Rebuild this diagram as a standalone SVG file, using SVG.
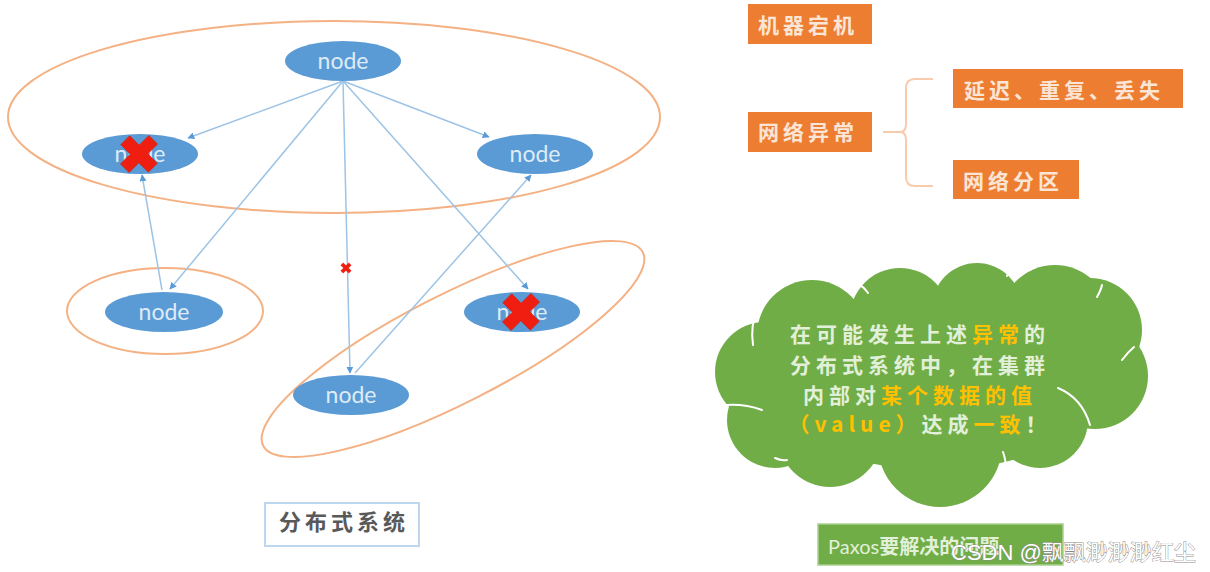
<svg xmlns="http://www.w3.org/2000/svg" width="1210" height="572" viewBox="0 0 1210 572">
<defs>
<style>
.grp{fill:none;stroke:#F4B183;stroke-width:2}
.nd{fill:#5B9BD5}
.nt{font-family:Lato,"Open Sans",sans-serif;font-size:23px;fill:#DEEBF7;text-anchor:middle}
.cn{fill:none;stroke:#9DC3E6;stroke-width:1.5}
.xx{fill:#F01E10;stroke:#C8281E;stroke-width:0.8}
.ob{fill:#ED7D31}
.ot{font-family:"Noto Sans CJK SC",sans-serif;font-size:21px;font-weight:700;fill:#FBE5D6;letter-spacing:4px}
.ct{font-family:"Noto Sans CJK SC",sans-serif;font-size:21px;font-weight:700;fill:#E2F0D9;letter-spacing:5px;text-anchor:middle}
.hl{fill:#FFC000}
.cl{fill:#70AD47}
.arc{fill:none;stroke:#ffffff;stroke-width:2;stroke-linecap:round}
</style>
<marker id="ah" viewBox="0 0 10 10" refX="9" refY="5" markerWidth="7" markerHeight="7" markerUnits="userSpaceOnUse" orient="auto">
<path d="M0,0 L10,5 L0,10 z" fill="#5B9BD5"/>
</marker>
<polygon id="xs" points="6.4,-20.5 6.4,-6.4 20.5,-6.4 20.5,6.4 6.4,6.4 6.4,20.5 -6.4,20.5 -6.4,6.4 -20.5,6.4 -20.5,-6.4 -6.4,-6.4 -6.4,-20.5"/>
</defs>
<rect width="1210" height="572" fill="#ffffff"/>

<g id="groups">
<ellipse class="grp" cx="334" cy="117" rx="326" ry="96"/>
<ellipse class="grp" cx="165" cy="311" rx="98" ry="43"/>
<ellipse class="grp" cx="453" cy="349" rx="213" ry="54" transform="rotate(-27 453 349)"/>
</g>

<g id="connectors">
<line class="cn" x1="343" y1="81" x2="188" y2="138" marker-end="url(#ah)"/>
<line class="cn" x1="343" y1="81" x2="489" y2="137" marker-end="url(#ah)"/>
<line class="cn" x1="343" y1="81" x2="170" y2="289" marker-end="url(#ah)"/>
<line class="cn" x1="343" y1="81" x2="350" y2="373" marker-end="url(#ah)"/>
<line class="cn" x1="343" y1="81" x2="528" y2="289" marker-end="url(#ah)"/>
<line class="cn" x1="162" y1="290" x2="142" y2="175" marker-end="url(#ah)"/>
<line class="cn" x1="355" y1="373" x2="531" y2="175" marker-end="url(#ah)"/>
<use href="#xs" class="xx" transform="translate(346 268) rotate(45) scale(0.28 0.28)"/>
</g>

<g id="node-top">
<ellipse class="nd" cx="343" cy="61" rx="58" ry="20"/>
<text class="nt" x="343" y="69">node</text>
</g>
<g id="node-left">
<ellipse class="nd" cx="140" cy="154" rx="58" ry="20"/>
<text class="nt" x="140" y="162">node</text>
<use href="#xs" class="xx" transform="translate(139 154) rotate(45) scale(0.95 0.98)"/>
</g>
<g id="node-right">
<ellipse class="nd" cx="535" cy="154" rx="58" ry="20"/>
<text class="nt" x="535" y="162">node</text>
</g>
<g id="node-midleft">
<ellipse class="nd" cx="164" cy="312" rx="59" ry="20"/>
<text class="nt" x="164" y="320">node</text>
</g>
<g id="node-midright">
<ellipse class="nd" cx="522" cy="312" rx="58" ry="20"/>
<text class="nt" x="522" y="320">node</text>
<use href="#xs" class="xx" transform="translate(521 312) rotate(45) scale(0.95 0.98)"/>
</g>
<g id="node-bottom">
<ellipse class="nd" cx="351" cy="395" rx="58" ry="20"/>
<text class="nt" x="351" y="403">node</text>
</g>

<g id="label-system">
<rect x="265" y="503" width="154" height="43" fill="#ffffff" stroke="#BDD7EE" stroke-width="2"/>
<text x="344" y="530" font-family="'Noto Sans CJK SC',sans-serif" font-size="22" font-weight="700" fill="#595959" letter-spacing="4" text-anchor="middle">分布式系统</text>
</g>

<g id="box-crash">
<rect class="ob" x="748" y="4" width="124" height="40"/>
<text class="ot" x="758" y="33">机器宕机</text>
</g>
<g id="box-net">
<rect class="ob" x="748" y="112" width="124" height="40"/>
<text class="ot" x="758" y="140">网络异常</text>
</g>
<g id="box-delay">
<rect class="ob" x="953" y="69" width="230" height="39"/>
<text class="ot" x="964" y="98">延迟、重复、丢失</text>
</g>
<g id="box-part">
<rect class="ob" x="953" y="160" width="126" height="39"/>
<text class="ot" x="963" y="189">网络分区</text>
</g>
<g id="brace">
<path d="M883,132 L900,132 Q906,132 906,124 L906,88 Q906,79 915,79 L933,79 M906,140 L906,177 Q906,186 915,186 L933,186 M900,132 Q906,132 906,140" fill="none" stroke="#F8CBAD" stroke-width="2"/>
</g>

<g id="cloud">
<g class="cl">
<circle cx="812" cy="335" r="55"/>
<circle cx="900" cy="318" r="50"/>
<circle cx="977" cy="308" r="45"/>
<circle cx="1055" cy="320" r="55"/>
<circle cx="1090" cy="330" r="52"/>
<circle cx="1095" cy="376" r="53"/>
<circle cx="1040" cy="420" r="48"/>
<circle cx="940" cy="445" r="62"/>
<circle cx="830" cy="435" r="52"/>
<circle cx="775" cy="420" r="48"/>
<circle cx="765" cy="372" r="50"/>
<ellipse cx="935" cy="385" rx="165" ry="85"/>
</g>
<path class="arc" d="M753,345 Q750,325 758,308"/>
<path class="arc" d="M858,284 Q864,287 868,293"/>
<path class="arc" d="M940,280 Q942,271 947,265"/>
<path class="arc" d="M1007,276 Q1009,270 1013,266"/>
<path class="arc" d="M1097,297 Q1101,290 1102,285"/>
<path class="arc" d="M1122,360 Q1128,352 1134,347"/>
<path class="arc" d="M1058,388 Q1082,398 1090,425"/>
<path class="arc" d="M1003,452 Q1006,460 1006,470"/>
<path class="arc" d="M873,472 Q878,478 884,484"/>
<path class="arc" d="M775,458 Q781,461 787,460"/>
<path class="arc" d="M727,405 Q745,404 762,410"/>
<text class="ct" x="920" y="342">在可能发生上述<tspan class="hl">异常</tspan>的</text>
<text class="ct" x="920" y="373">分布式系统中，在集群</text>
<text class="ct" x="920" y="403">内部对<tspan class="hl">某个数据的值</tspan></text>
<text class="ct" x="920" y="432"><tspan class="hl">（value）</tspan>达成<tspan class="hl">一致</tspan>！</text>
</g>

<g id="box-paxos">
<rect x="818" y="524" width="245" height="41" fill="#70AD47" stroke="#A9D18E" stroke-width="1.5"/>
<text x="828" y="554" font-family="'Noto Sans CJK SC',sans-serif" font-size="20" font-weight="700" fill="#E2F0D9"><tspan font-family="Lato,sans-serif" font-weight="400">Paxos</tspan>要解决的问题</text>
</g>

<g id="watermark">
<text x="951" y="560" font-family="'Liberation Sans','Noto Sans CJK SC',sans-serif" font-size="22" fill="#ffffff" stroke="#8a8a8a" stroke-width="0.9" paint-order="stroke">CSDN @飘飘渺渺渺红尘</text>
</g>
</svg>
